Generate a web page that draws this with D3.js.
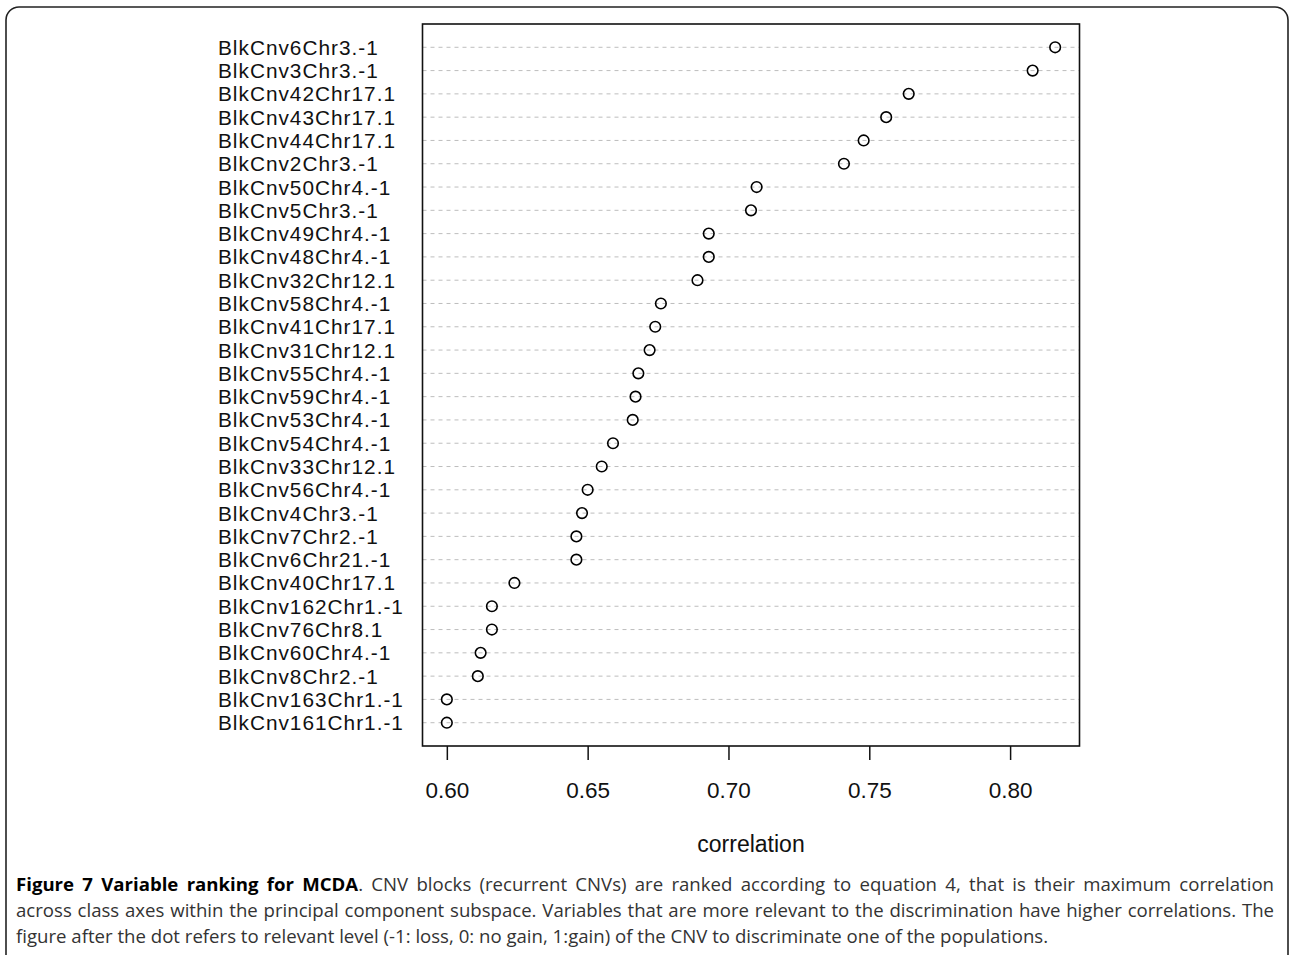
<!doctype html>
<html>
<head>
<meta charset="UTF-8">
<title>Variable ranking for MCDA</title>
<script src="https://d3js.org/d3.v7.min.js"></script>
<style>
  body { margin: 0; background: #fff; }
  svg { display: block; }
</style>
</head>
<body>
<svg id="chart" width="1290" height="955"></svg>
<script>
// variables, top to bottom, as ranked in the figure
var labels = [
  "BlkCnv6Chr3.-1", "BlkCnv3Chr3.-1", "BlkCnv42Chr17.1", "BlkCnv43Chr17.1",
  "BlkCnv44Chr17.1", "BlkCnv2Chr3.-1", "BlkCnv50Chr4.-1", "BlkCnv5Chr3.-1",
  "BlkCnv49Chr4.-1", "BlkCnv48Chr4.-1", "BlkCnv32Chr12.1", "BlkCnv58Chr4.-1",
  "BlkCnv41Chr17.1", "BlkCnv31Chr12.1", "BlkCnv55Chr4.-1", "BlkCnv59Chr4.-1",
  "BlkCnv53Chr4.-1", "BlkCnv54Chr4.-1", "BlkCnv33Chr12.1", "BlkCnv56Chr4.-1",
  "BlkCnv4Chr3.-1", "BlkCnv7Chr2.-1", "BlkCnv6Chr21.-1", "BlkCnv40Chr17.1",
  "BlkCnv162Chr1.-1", "BlkCnv76Chr8.1", "BlkCnv60Chr4.-1", "BlkCnv8Chr2.-1",
  "BlkCnv163Chr1.-1", "BlkCnv161Chr1.-1"
];
var correlations = [
  0.816, 0.808, 0.764, 0.756, 0.748, 0.741, 0.710, 0.708,
  0.693, 0.693, 0.689, 0.676, 0.674, 0.672, 0.668, 0.667,
  0.666, 0.659, 0.655, 0.650, 0.648, 0.646, 0.646, 0.624,
  0.616, 0.616, 0.612, 0.611, 0.600, 0.600
];
var xTicks = [0.60, 0.65, 0.70, 0.75, 0.80];
var xTitle = "correlation";

var captionBold = "Figure 7 Variable ranking for MCDA";
var captionLines = [
  ". CNV blocks (recurrent CNVs) are ranked according to equation 4, that is their maximum correlation",
  "across class axes within the principal component subspace. Variables that are more relevant to the discrimination have higher correlations. The",
  "figure after the dot refers to relevant level (-1: loss, 0: no gain, 1:gain) of the CNV to discriminate one of the populations."
];

var svg = d3.select("#chart");

// outer panel with rounded corners (runs past the bottom edge)
svg.append("rect")
  .attr("x", 6).attr("y", 7)
  .attr("width", 1282).attr("height", 970)
  .attr("rx", 13).attr("ry", 13)
  .attr("fill", "none")
  .attr("stroke", "#222")
  .attr("stroke-width", 1.6);

var box = {left: 422.5, right: 1079.5, top: 24, bottom: 746};

// R style: range padded by 4% on each side
var lo = d3.min(correlations), hi = d3.max(correlations);
var pad = (hi - lo) * 0.04;
var x = d3.scaleLinear().domain([lo - pad, hi + pad]).range([box.left, box.right]);
var y = d3.scaleLinear().domain([0, labels.length + 1]).range([box.top, box.bottom]);

// dotted guide lines
svg.append("g").selectAll("line")
  .data(labels)
  .enter().append("line")
  .attr("x1", box.left).attr("x2", box.right)
  .attr("y1", function (d, i) { return y(i + 1); })
  .attr("y2", function (d, i) { return y(i + 1); })
  .attr("stroke", "#bdbdbd")
  .attr("stroke-width", 1)
  .attr("stroke-dasharray", "4,4");

// category labels (left aligned, as dotchart does)
svg.append("g").selectAll("text")
  .data(labels)
  .enter().append("text")
  .attr("x", 218)
  .attr("y", function (d, i) { return y(i + 1); })
  .attr("dy", "0.36em")
  .attr("font-family", "'Liberation Sans', Arial, sans-serif")
  .attr("font-size", 20.8)
  .attr("letter-spacing", 1)
  .attr("fill", "#111")
  .text(function (d) { return d; });

// points
svg.append("g").selectAll("circle")
  .data(correlations)
  .enter().append("circle")
  .attr("cx", function (d) { return x(d); })
  .attr("cy", function (d, i) { return y(i + 1); })
  .attr("r", 5.3)
  .attr("fill", "none")
  .attr("stroke", "#000")
  .attr("stroke-width", 1.6);

// frame
svg.append("rect")
  .attr("x", box.left).attr("y", box.top)
  .attr("width", box.right - box.left)
  .attr("height", box.bottom - box.top)
  .attr("fill", "none")
  .attr("stroke", "#111")
  .attr("stroke-width", 1.6);

// bottom axis
var axis = svg.append("g")
  .attr("transform", "translate(0," + box.bottom + ")")
  .call(d3.axisBottom(x).tickValues(xTicks).tickFormat(d3.format(".2f"))
    .tickSize(14).tickPadding(22));
axis.select(".domain").remove();
axis.selectAll(".tick line").attr("stroke", "#111").attr("stroke-width", 1.5);
axis.selectAll(".tick text")
  .attr("font-family", "'Liberation Sans', Arial, sans-serif")
  .attr("font-size", 22.5)
  .attr("fill", "#111");

svg.append("text")
  .attr("x", (box.left + box.right) / 2)
  .attr("y", 852)
  .attr("text-anchor", "middle")
  .attr("font-family", "'Liberation Sans', Arial, sans-serif")
  .attr("font-size", 23)
  .attr("fill", "#111")
  .text(xTitle);

// caption, justified like the journal layout
var capX0 = 16, capX1 = 1274, capFont = 18.6;
var capBase = [891, 917, 943];
var capFamily = "'Open Sans', 'Noto Sans', sans-serif";

function words(line, bold) {
  return line.split(" ").filter(function (w) { return w.length; })
    .map(function (w) { return {t: w, b: bold}; });
}

captionLines.forEach(function (line, li) {
  var ws;
  if (li === 0) {
    ws = words(captionBold, true);
    var rest = words(line, false);
    // the period sticks to the last bold word
    ws.push({t: rest[0].t, b: false, glue: true});
    ws = ws.concat(rest.slice(1));
  } else {
    ws = words(line, false);
  }
  var g = svg.append("g");
  var nodes = ws.map(function (w) {
    return g.append("text")
      .attr("y", capBase[li])
      .attr("font-family", capFamily)
      .attr("font-size", capFont)
      .attr("font-weight", w.b ? 700 : 400)
      .attr("fill", w.b ? "#000" : "#333")
      .text(w.t);
  });
  var widths = nodes.map(function (n) { return n.node().getComputedTextLength(); });
  var space = capFont * 0.26;
  var gaps = ws.filter(function (w, i) { return i > 0 && !w.glue; }).length;
  var total = d3.sum(widths);
  if (li < captionLines.length - 1) space = Math.max(2, (capX1 - capX0 - total) / gaps);
  var cx = capX0;
  nodes.forEach(function (n, i) {
    if (i > 0 && !ws[i].glue) cx += space;
    n.attr("x", cx);
    cx += widths[i];
  });
});
</script>
</body>
</html>
